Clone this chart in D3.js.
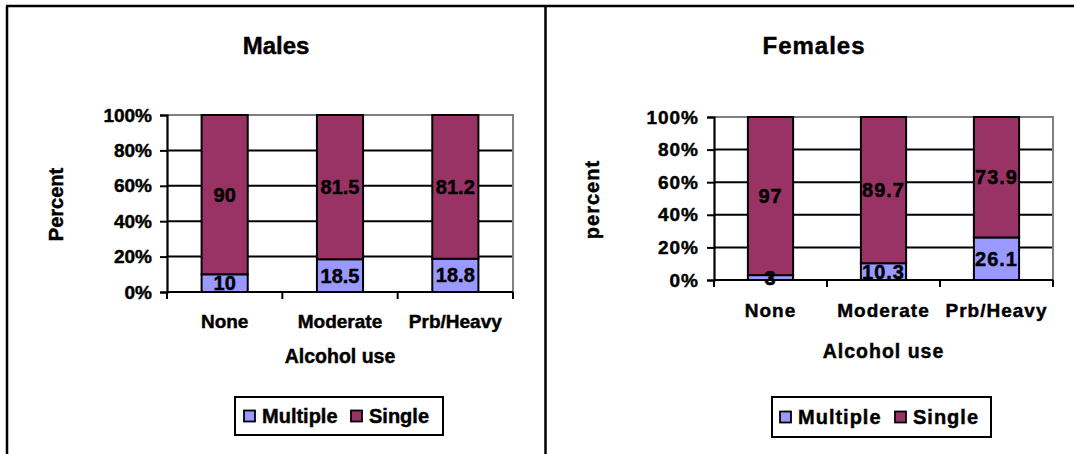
<!DOCTYPE html>
<html>
<head>
<meta charset="utf-8">
<script src="https://cdn.jsdelivr.net/npm/d3@7"></script>
<style>
  html, body { margin: 0; padding: 0; background: #fff; }
  svg { display: block; }
  text { font-family: "Liberation Sans", Arial, sans-serif; font-weight: bold; fill: #000; stroke: #000; stroke-width: 0.45px; }
</style>
</head>
<body>
<svg id="chart" width="1074" height="454"></svg>
<script>
// Alcohol use categories and the share of single vs multiple partners
const categories = ["None", "Moderate", "Prb/Heavy"];
const seriesNames = ["Multiple", "Single"];
const maleMultiple = [10, 18.5, 18.8];
const maleSingle = [90, 81.5, 81.2];
const femaleMultiple = [3, 10.3, 26.1];
const femaleSingle = [97, 89.7, 73.9];
const yTickValues = [0, 20, 40, 60, 80, 100];

const colors = { Multiple: "#9999FF", Single: "#993366" };

const svg = d3.select("#chart");

// outer frame: top rule, left rule and the divider between the two panels
const frame = svg.append("g").attr("stroke", "#000").attr("stroke-width", 2.5);
frame.append("line").attr("x1", 6).attr("x2", 1074).attr("y1", 6).attr("y2", 6);
frame.append("line").attr("x1", 7).attr("x2", 7).attr("y1", 6).attr("y2", 454);
frame.append("line").attr("x1", 545.5).attr("x2", 545.5).attr("y1", 6).attr("y2", 454);

function drawPanel(opt) {
  const g = svg.append("g").attr("letter-spacing", opt.spacing);
  const rows = categories.map((c, i) => ({ cat: c, Multiple: opt.multiple[i], Single: opt.single[i] }));
  const stacked = d3.stack().keys(seriesNames)(rows);

  const x = d3.scaleBand().domain(categories)
    .range([opt.left, opt.right]).paddingInner(0.6).paddingOuter(0.3);
  const y = d3.scaleLinear().domain([0, 100]).range([opt.bottom, opt.top]);

  // horizontal gridlines
  g.append("g").selectAll("line").data(yTickValues.filter(v => v < 100)).join("line")
    .attr("x1", opt.left).attr("x2", opt.right)
    .attr("y1", d => y(d)).attr("y2", d => y(d))
    .attr("stroke", "#000").attr("stroke-width", 2);

  // plot area border (top and right) in grey
  g.append("path")
    .attr("d", `M${opt.left},${y(100)}H${opt.right}V${y(0)}`)
    .attr("fill", "none").attr("stroke", "#808080").attr("stroke-width", 2);

  // stacked bars
  g.append("g").selectAll("g").data(stacked).join("g")
    .attr("fill", d => colors[d.key])
    .selectAll("rect").data(d => d).join("rect")
    .attr("x", d => x(d.data.cat))
    .attr("width", x.bandwidth())
    .attr("y", d => y(d[1]))
    .attr("height", d => y(d[0]) - y(d[1]))
    .attr("stroke", "#000").attr("stroke-width", 2);

  // value labels centred in each segment
  g.append("g").selectAll("g").data(stacked).join("g")
    .selectAll("text").data(d => d.map(v => ({ v, key: d.key }))).join("text")
    .attr("x", d => x(d.v.data.cat) + x.bandwidth() / 2)
    .attr("y", d => (y(d.v[0]) + y(d.v[1])) / 2)
    .attr("text-anchor", "middle").attr("dominant-baseline", "central")
    .attr("font-size", 20)
    .text(d => d.v.data[d.key]);

  // y axis
  const yAxis = g.append("g").attr("transform", `translate(${opt.left},0)`)
    .call(d3.axisLeft(y).tickValues(yTickValues).tickFormat(d => d + "%").tickSize(7).tickPadding(8));
  yAxis.attr("font-family", null);
  yAxis.select(".domain").attr("stroke", "#000").attr("stroke-width", 2.2);
  yAxis.selectAll(".tick line").attr("stroke", "#000").attr("stroke-width", 2);
  yAxis.selectAll(".tick text").attr("font-size", 19).attr("fill", "#000")
    .attr("letter-spacing", opt.spacing);

  // x axis: baseline with ticks at category boundaries
  const step = x.step();
  const bounds = d3.range(categories.length + 1).map(i => opt.left + i * step);
  g.append("line").attr("x1", opt.left).attr("x2", opt.right)
    .attr("y1", y(0)).attr("y2", y(0)).attr("stroke", "#000").attr("stroke-width", 2.2);
  g.append("g").selectAll("line").data(bounds).join("line")
    .attr("x1", d => d).attr("x2", d => d)
    .attr("y1", y(0)).attr("y2", y(0) + 7)
    .attr("stroke", "#000").attr("stroke-width", 2);
  g.append("g").selectAll("text").data(categories).join("text")
    .attr("x", d => x(d) + x.bandwidth() / 2)
    .attr("y", opt.catBaseline)
    .attr("text-anchor", "middle").attr("font-size", 19)
    .text(d => d);

  // titles
  g.append("text").attr("x", opt.titleX).attr("y", 54)
    .attr("text-anchor", "middle").attr("font-size", 24).text(opt.title);
  g.append("text").attr("x", (opt.left + opt.right) / 2).attr("y", opt.xTitleBaseline)
    .attr("text-anchor", "middle").attr("font-size", 19.5).text("Alcohol use");
  g.append("text")
    .attr("transform", `translate(${opt.yTitleX},${(opt.top + opt.bottom) / 2 + 1}) rotate(-90)`)
    .attr("text-anchor", "middle").attr("font-size", 20).text(opt.yTitle);

  // legend
  const lg = g.append("g").attr("transform", `translate(${opt.legend.x},${opt.legend.y})`);
  lg.append("rect").attr("width", opt.legend.w).attr("height", opt.legend.h)
    .attr("fill", "#fff").attr("stroke", "#000").attr("stroke-width", 2);
  const items = lg.selectAll("g").data(seriesNames).join("g")
    .attr("transform", (d, i) => `translate(${opt.legend.items[i]},0)`);
  items.append("rect").attr("x", 0).attr("y", opt.legend.h / 2 - 5.5)
    .attr("width", 11).attr("height", 11)
    .attr("fill", d => colors[d]).attr("stroke", "#000").attr("stroke-width", 1.8);
  items.append("text").attr("x", 18).attr("y", opt.legend.h / 2)
    .attr("dominant-baseline", "central").attr("font-size", 20).text(d => d);
}

drawPanel({
  title: "Males", titleX: 276, yTitle: "Percent", yTitleX: 63,
  multiple: maleMultiple, single: maleSingle,
  left: 167, right: 513, top: 115, bottom: 292,
  catBaseline: 328, xTitleBaseline: 363, spacing: 0,
  legend: { x: 235, y: 397, w: 208, h: 38, items: [9, 116] }
});

drawPanel({
  title: "Females", titleX: 814, yTitle: "percent", yTitleX: 599,
  multiple: femaleMultiple, single: femaleSingle,
  left: 714, right: 1053, top: 117, bottom: 280,
  catBaseline: 317, xTitleBaseline: 358, spacing: 1,
  legend: { x: 772, y: 397, w: 219, h: 40, items: [8, 123] }
});
</script>
</body>
</html>
